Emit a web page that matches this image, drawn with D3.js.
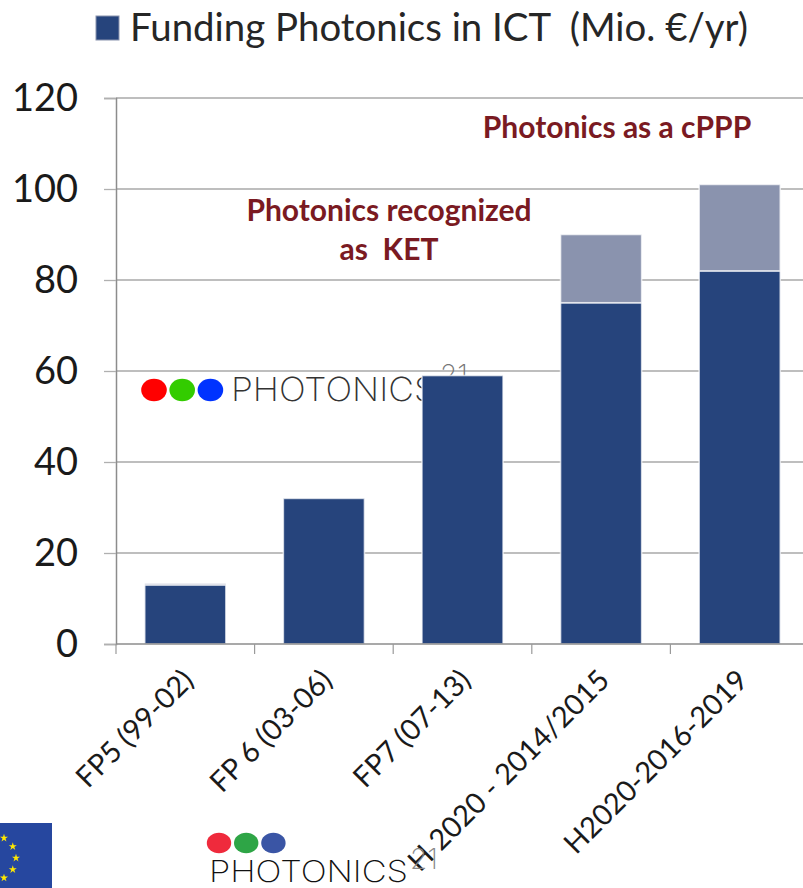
<!DOCTYPE html>
<html>
<head>
<meta charset="utf-8">
<script src="https://cdn.jsdelivr.net/npm/d3@7"></script>
<style>
  html, body { margin: 0; padding: 0; background: #fff; }
  svg { display: block; font-family: Lato, "Open Sans", sans-serif; }
</style>
</head>
<body>
<svg id="chart" width="803" height="888"></svg>
<script>
const categories = ["FP5 (99-02)", "FP 6 (03-06)", "FP7 (07-13)", "H 2020 - 2014/2015", "H2020-2016-2019"];
const funded = [13, 32, 59, 75, 82];
const extra = [0.3, 0, 0, 15, 19];
const yTicks = [0, 20, 40, 60, 80, 100, 120];
const legendLabel = "Funding Photonics in ICT  (Mio. €/yr)";
const notes = [
  { lines: ["Photonics as a cPPP"], x: 617, y: 138 },
  { lines: ["Photonics recognized", "as  KET"], x: 389, y: 221 }
];

const svg = d3.select("#chart");

const margin = { left: 116, right: -6, top: 98, bottom: 244 };
const width = 803, height = 888;

const x = d3.scaleBand()
  .domain(categories)
  .range([margin.left, width - margin.right])
  .paddingInner(0.415)
  .paddingOuter(0.2075);

const y = d3.scaleLinear()
  .domain([0, 120])
  .range([height - margin.bottom, margin.top]);

// gridlines go under the watermark logo
svg.append("g")
  .selectAll("line")
  .data(yTicks.slice(1))
  .join("line")
  .attr("x1", margin.left)
  .attr("x2", width)
  .attr("y1", d => y(d))
  .attr("y2", d => y(d))
  .attr("stroke", "#a8a8a8")
  .attr("stroke-width", 1.3);

// watermark logo sitting behind the bars
const mark = svg.append("g");
mark.selectAll("ellipse")
  .data(["#ff0000", "#33cc00", "#0033ff"])
  .join("ellipse")
  .attr("cx", (d, i) => 154 + i * 28.2)
  .attr("cy", 390)
  .attr("rx", 12.8)
  .attr("ry", 11.3)
  .attr("fill", d => d);
mark.append("text")
  .attr("x", 231)
  .attr("y", 401)
  .attr("font-family", "Inter")
  .attr("font-size", 33)
  .attr("font-weight", 200)
  .attr("fill", "#333")
  .attr("textLength", 205)
  .attr("lengthAdjust", "spacingAndGlyphs")
  .text("PHOTONICS");
mark.append("text")
  .attr("x", 440)
  .attr("y", 385)
  .attr("font-family", "Inter")
  .attr("font-size", 28)
  .attr("font-weight", 200)
  .attr("fill", "#777")
  .text("21");

// bars
const bars = svg.append("g");
bars.selectAll("rect.base")
  .data(categories)
  .join("rect")
  .attr("class", "base")
  .attr("x", d => x(d))
  .attr("width", x.bandwidth())
  .attr("y", (d, i) => y(funded[i]))
  .attr("height", (d, i) => y(0) - y(funded[i]))
  .attr("fill", "#26447c")
  .attr("stroke", "#fff")
  .attr("stroke-opacity", 0.7)
  .attr("stroke-width", 1.6);
bars.selectAll("rect.extra")
  .data(categories)
  .join("rect")
  .attr("class", "extra")
  .attr("x", d => x(d))
  .attr("width", x.bandwidth())
  .attr("y", (d, i) => y(funded[i] + extra[i]))
  .attr("height", (d, i) => y(funded[i]) - y(funded[i] + extra[i]))
  .attr("fill", "#8a93ae")
  .attr("stroke", "#fff")
  .attr("stroke-opacity", 0.7)
  .attr("stroke-width", 1.6);

// y axis
const yAxis = svg.append("g")
  .attr("transform", `translate(${margin.left},0)`)
  .call(d3.axisLeft(y).tickValues(yTicks).tickSize(12).tickPadding(26));
yAxis.select(".domain").attr("stroke", "#8c8c8c").attr("stroke-width", 1.5);
yAxis.selectAll(".tick line").attr("stroke", "#b0b0b0").attr("stroke-width", 1.3);
yAxis.selectAll("text")
  .attr("font-family", "Lato")
  .attr("font-size", 38)
  .attr("fill", "#1a1a1a");

// x axis, ticks sit on the band edges so they are drawn from the step
const step = x.step();
const xEdges = d3.range(categories.length + 1).map(i => margin.left + i * step);
const xAxis = svg.append("g");
xAxis.append("line")
  .attr("x1", margin.left)
  .attr("x2", width)
  .attr("y1", y(0))
  .attr("y2", y(0))
  .attr("stroke", "#8c8c8c")
  .attr("stroke-width", 1.5);
xAxis.selectAll("line.tk")
  .data(xEdges)
  .join("line")
  .attr("class", "tk")
  .attr("x1", d => d)
  .attr("x2", d => d)
  .attr("y1", y(0))
  .attr("y2", y(0) + 10)
  .attr("stroke", "#9a9a9a")
  .attr("stroke-width", 1.2);
xAxis.selectAll("text")
  .data(categories)
  .join("text")
  .attr("transform", d => `translate(${x(d) + x.bandwidth() / 2 + 10},${y(0) + 38}) rotate(-45)`)
  .attr("text-anchor", "end")
  .attr("font-size", 29)
  .attr("fill", "#1a1a1a")
  .text(d => d);

// legend
svg.append("rect")
  .attr("x", 96).attr("y", 16)
  .attr("width", 23).attr("height", 24)
  .attr("fill", "#26447c")
  .attr("stroke", "#8a93ae");
svg.append("text")
  .attr("x", 130).attr("y", 41)
  .attr("font-size", 38.4)
  .attr("fill", "#262626")
  .style("white-space", "pre")
  .text(legendLabel);

// annotations
const noteText = svg.append("g")
  .attr("text-anchor", "middle")
  .attr("font-weight", 700)
  .attr("font-size", 30)
  .attr("fill", "#7a1a22");
notes.forEach(n => {
  n.lines.forEach((line, i) => {
    noteText.append("text")
      .attr("x", n.x)
      .attr("y", n.y + i * 39)
      .style("white-space", "pre")
      .text(line);
  });
});

// EU flag, bottom left
svg.append("rect")
  .attr("x", 0).attr("y", 823)
  .attr("width", 52).attr("height", 65)
  .attr("fill", "#26479f");
const star = d3.symbol().type(d3.symbolStar).size(20);
svg.append("g")
  .selectAll("path")
  .data([-60, -30, 0, 30, 60])
  .join("path")
  .attr("d", star)
  .attr("transform", d => {
    const a = d * Math.PI / 180;
    return `translate(${-8 + 24 * Math.cos(a)},${858 + 23 * Math.sin(a)})`;
  })
  .attr("fill", "#ffe800");

// footer logo
const logo = svg.append("g");
logo.selectAll("ellipse")
  .data(["#ef2a3c", "#2ea546", "#3a55a5"])
  .join("ellipse")
  .attr("cx", (d, i) => 219 + i * 27.2)
  .attr("cy", 843)
  .attr("rx", 12.2)
  .attr("ry", 10.3)
  .attr("fill", d => d);
logo.append("text")
  .attr("x", 209)
  .attr("y", 882)
  .attr("font-family", "Inter")
  .attr("font-size", 30)
  .attr("font-weight", 200)
  .attr("fill", "#111")
  .attr("textLength", 199)
  .attr("lengthAdjust", "spacingAndGlyphs")
  .text("PHOTONICS");
logo.append("text")
  .attr("x", 410)
  .attr("y", 869)
  .attr("font-family", "Inter")
  .attr("font-size", 28)
  .attr("font-weight", 200)
  .attr("fill", "#888")
  .text("21");
</script>
</body>
</html>
